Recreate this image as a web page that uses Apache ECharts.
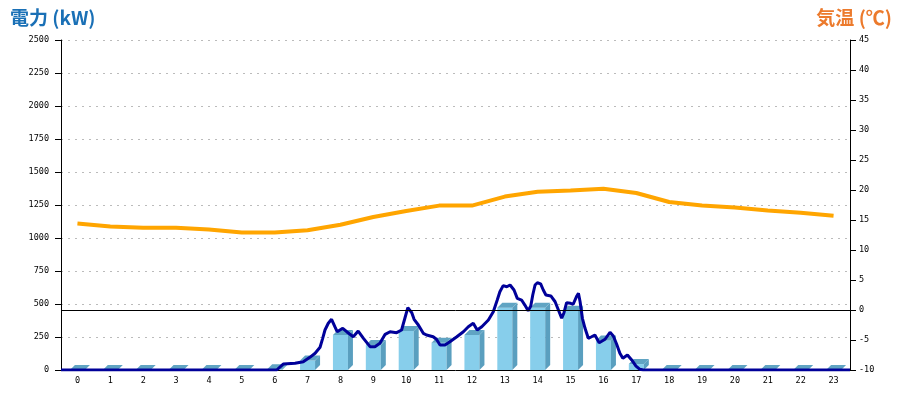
<!DOCTYPE html>
<html>
<head>
<meta charset="utf-8">
<script src="https://cdn.jsdelivr.net/npm/echarts@6/dist/echarts.min.js"></script>
<style>
html,body{margin:0;padding:0;background:#fff;}
#chart{width:900px;height:400px;}
</style>
</head>
<body>
<div id="chart"></div>
<script>
// ---- data ----
const hours = ['0','1','2','3','4','5','6','7','8','9','10','11','12','13','14','15','16','17','18','19','20','21','22','23'];
const hourlyKW = [0,0,0,0,0,0,5,72,265,189,296,207,265,472,472,449,224,45,0,0,0,0,0,0];
const temperature = [14.4,13.9,13.7,13.7,13.4,12.9,12.9,13.3,14.2,15.5,16.5,17.4,17.4,18.9,19.7,19.9,20.2,19.5,18.0,17.4,17.1,16.6,16.2,15.7];
const powerTimes = [0,6.56,6.76,7.12,7.37,7.57,7.73,7.88,7.96,8.03,8.13,8.23,8.33,8.40,8.57,8.69,8.89,9.04,9.20,9.40,9.55,9.70,9.86,10.01,10.21,10.36,10.46,10.55,10.67,10.74,10.87,11.02,11.12,11.32,11.42,11.53,11.68,11.83,12.04,12.24,12.39,12.54,12.66,12.80,13.00,13.15,13.27,13.35,13.45,13.56,13.66,13.78,13.88,14.01,14.11,14.21,14.29,14.35,14.42,14.49,14.59,14.67,14.75,14.90,15.03,15.13,15.23,15.30,15.38,15.50,15.58,15.69,15.74,15.79,15.86,15.94,16.04,16.14,16.24,16.37,16.55,16.70,16.80,16.90,17.00,17.09,17.23,17.36,17.49,17.61,17.71,24];
const powerKW = [0,0,45,51,63,96,127,172,240,303,354,384,328,290,316,290,252,295,240,177,177,202,270,290,283,303,392,472,434,384,341,278,265,252,233,189,189,214,252,290,328,354,303,328,379,442,530,593,639,631,644,606,543,530,492,449,485,568,644,661,652,606,568,561,517,455,392,434,510,505,498,561,581,517,392,316,240,252,265,207,233,286,258,197,127,89,114,76,30,5,0,0];
const kwTicks = {min:0, max:2500, interval:250};
const tempTicks = {min:-10, max:45, interval:5};

const chart = echarts.init(document.getElementById('chart'), null, {renderer:'canvas'});
const labelFont = {fontFamily:'DejaVu Sans Mono', fontSize:8.5, color:'#000'};

const barData = hourlyKW.map((v,i)=>[i,v]);
const powerData = powerTimes.map((t,i)=>[t, powerKW[i]]);

function renderBar(params, api){
  const top = api.coord([api.value(0), api.value(1)]);
  const base = api.coord([api.value(0), 0]);
  const hw = 7.5, d = 5;
  const x0 = top[0]-hw, x1 = top[0]+hw, ty = top[1], by = base[1];
  return {
    type:'group',
    children:[
      {type:'rect', shape:{x:x0, y:ty, width:x1-x0, height:by-ty}, style:{fill:'#87CEEB'}},
      {type:'polygon', shape:{points:[[x1,ty],[x1+d,ty-d],[x1+d,by-d],[x1,by]]}, style:{fill:'#5A9FBF'}},
      {type:'polygon', shape:{points:[[x0,ty],[x1,ty],[x1+d,ty-d],[x0+d,ty-d]]}, style:{fill:'#60A4C3'}}
    ]
  };
}

chart.setOption({
  animation:false,
  backgroundColor:'#fff',
  title:[
    {text:'電力 (kW)', left:5, top:3, textStyle:{fontFamily:'Noto Sans CJK JP', fontWeight:'bold', fontSize:19, color:'#1A70B6'}},
    {text:'気温 (℃)', right:3, top:3, textStyle:{fontFamily:'Noto Sans CJK JP', fontWeight:'bold', fontSize:19, color:'#EC7A2C'}}
  ],
  grid:{left:61, right:50, top:40, bottom:30},
  xAxis:[
    {type:'category', data:hours, boundaryGap:true,
     axisLine:{show:true, lineStyle:{color:'#000', width:1}},
     axisTick:{show:false},
     axisLabel:Object.assign({margin:6}, labelFont),
     splitLine:{show:false}},
    {type:'value', min:0, max:24, show:false}
  ],
  yAxis:[
    {type:'value', min:kwTicks.min, max:kwTicks.max, interval:kwTicks.interval, position:'left',
     axisLine:{show:true, lineStyle:{color:'#000', width:1}},
     axisTick:{show:true, length:6, lineStyle:{color:'#000'}},
     axisLabel:Object.assign({margin:12, formatter:v=>String(v)}, labelFont),
     splitLine:{show:true, lineStyle:{color:'#BBBBBB', type:[2,5], width:1}}},
    {type:'value', min:tempTicks.min, max:tempTicks.max, interval:tempTicks.interval, position:'right',
     axisLine:{show:true, onZero:false, lineStyle:{color:'#000', width:1}},
     axisTick:{show:true, length:6, lineStyle:{color:'#000'}},
     axisLabel:Object.assign({margin:9, formatter:v=>String(v)}, labelFont),
     splitLine:{show:false}}
  ],
  series:[
    {type:'custom', name:'bars', xAxisIndex:0, yAxisIndex:0, data:barData, renderItem:renderBar, z:1, clip:false},
    {type:'line', name:'気温', xAxisIndex:0, yAxisIndex:1, data:temperature, symbol:'none', z:2,
     lineStyle:{color:'#FFA500', width:4}, itemStyle:{color:'#FFA500'},
     markLine:{silent:true, symbol:'none', label:{show:false},
       lineStyle:{color:'#000', type:'solid', width:1},
       data:[{yAxis:0}]}},
    {type:'line', name:'電力', xAxisIndex:1, yAxisIndex:0, data:powerData, symbol:'none', z:3,
     lineStyle:{color:'#000099', width:3}, itemStyle:{color:'#000099'}}
  ]
});
</script>
</body>
</html>
